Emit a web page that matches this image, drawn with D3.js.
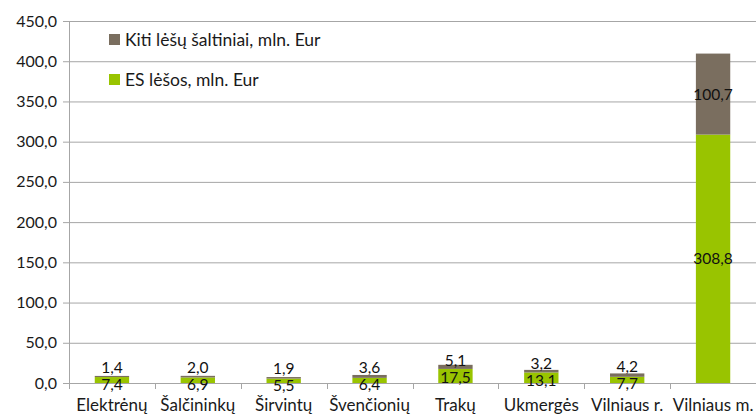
<!DOCTYPE html>
<html>
<head>
<meta charset="utf-8">
<script src="https://cdn.jsdelivr.net/npm/d3@7"></script>
<style>
  body { margin: 0; background: #fff; }
  svg { display: block; font-family: Lato, "Open Sans", sans-serif; }
</style>
</head>
<body>
<div id="chart"></div>
<script>
const categories = ["Elektrėnų", "Šalčininkų", "Širvintų", "Švenčionių", "Trakų", "Ukmergės", "Vilniaus r.", "Vilniaus m."]
const esValues = [7.4, 6.9, 5.5, 6.4, 17.5, 13.1, 7.7, 308.8]
const otherValues = [1.4, 2.0, 1.9, 3.6, 5.1, 3.2, 4.2, 100.7]
const yTicks = [0, 50, 100, 150, 200, 250, 300, 350, 400, 450]
const seriesNames = ["Kiti lėšų šaltiniai, mln. Eur", "ES lėšos, mln. Eur"]

const width = 756
const height = 417
const margin = { top: 21, right: 0, bottom: 34, left: 69 }
const innerW = width - margin.left - margin.right
const innerH = height - margin.top - margin.bottom

const green = "#99c400"
const brown = "#7a6e5f"
const fmt = v => v.toFixed(1).replace(".", ",")

const svg = d3.select("#chart").append("svg")
  .attr("width", width)
  .attr("height", height)

const g = svg.append("g").attr("transform", `translate(${margin.left},${margin.top})`)

const x = d3.scaleBand().domain(categories).range([0, innerW]).paddingInner(0.6).paddingOuter(0.3)
const y = d3.scaleLinear().domain([0, 450]).range([innerH, 0])

// gridlines + y labels
g.selectAll(".grid").data(yTicks).enter().append("line")
  .attr("x1", -6).attr("x2", innerW)
  .attr("y1", d => y(d) + 0.5).attr("y2", d => y(d) + 0.5)
  .attr("stroke", "#a6a6a6").attr("stroke-width", 1)

g.selectAll(".ylab").data(yTicks).enter().append("text")
  .attr("x", -12).attr("y", d => y(d))
  .attr("dy", "0.35em")
  .attr("text-anchor", "end")
  .attr("font-size", 16)
  .attr("fill", "#1a1a1a")
  .text(d => fmt(d))

// y axis line
g.append("line").attr("x1", 0.5).attr("x2", 0.5).attr("y1", 0).attr("y2", innerH)
  .attr("stroke", "#a6a6a6")

// category ticks
const bounds = d3.range(categories.length + 1).map(i => i * innerW / categories.length)
g.selectAll(".xtick").data(bounds).enter().append("line")
  .attr("x1", d => Math.round(d) + 0.5).attr("x2", d => Math.round(d) + 0.5)
  .attr("y1", innerH).attr("y2", innerH + 6)
  .attr("stroke", "#a6a6a6")

g.selectAll(".xlab").data(categories).enter().append("text")
  .attr("x", d => x(d) + x.bandwidth() / 2)
  .attr("y", innerH + 28)
  .attr("text-anchor", "middle")
  .attr("font-size", 17)
  .attr("fill", "#1a1a1a")
  .text(d => d)

// bars
const rows = categories.map((c, i) => ({ c, es: esValues[i], other: otherValues[i] }))

g.selectAll(".es").data(rows).enter().append("rect")
  .attr("x", d => x(d.c)).attr("width", x.bandwidth())
  .attr("y", d => y(d.es)).attr("height", d => y(0) - y(d.es))
  .attr("fill", green)

g.selectAll(".other").data(rows).enter().append("rect")
  .attr("x", d => x(d.c)).attr("width", x.bandwidth())
  .attr("y", d => y(d.es + d.other)).attr("height", d => y(d.es) - y(d.es + d.other))
  .attr("fill", brown)

// data labels, pushed apart when the segments are too thin
rows.forEach(d => {
  let cEs = (y(0) + y(d.es)) / 2
  let cOt = (y(d.es) + y(d.es + d.other)) / 2
  if (cEs - cOt < 17) {
    const mid = (cEs + cOt) / 2 - 2
    cEs = mid + 8
    cOt = mid - 9
  }
  const cx = x(d.c) + x.bandwidth() / 2
  g.append("text").attr("x", cx).attr("y", cOt).attr("dy", "0.35em")
    .attr("text-anchor", "middle").attr("font-size", 15.5).attr("fill", "#111")
    .text(fmt(d.other))
  g.append("text").attr("x", cx).attr("y", cEs).attr("dy", "0.35em")
    .attr("text-anchor", "middle").attr("font-size", 15.5).attr("fill", "#111")
    .text(fmt(d.es))
})

// legend
const legend = svg.append("g").attr("transform", "translate(109,34)")
const legColors = [brown, green]
seriesNames.forEach((name, i) => {
  const row = legend.append("g").attr("transform", `translate(0,${i * 40})`)
  row.append("rect").attr("width", 11).attr("height", 11).attr("fill", legColors[i])
  row.append("text").attr("x", 16).attr("y", 5.5).attr("dy", "0.35em")
    .attr("font-size", 17.5).attr("fill", "#1a1a1a").text(name)
})
</script>
</body>
</html>
